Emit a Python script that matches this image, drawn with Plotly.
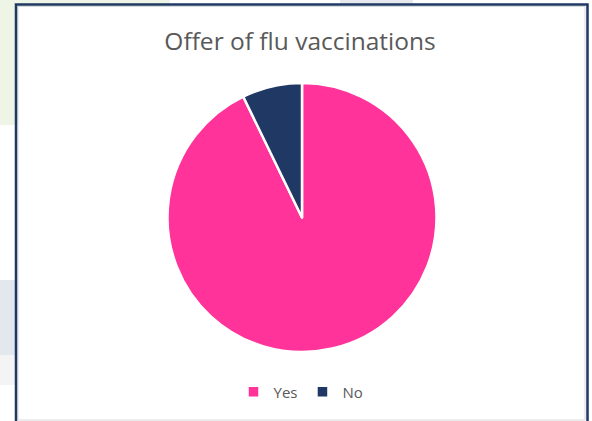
import plotly.graph_objects as go

labels = ["Yes", "No"]
values = [92.8, 7.2]
colors = ["#FF3399", "#1F3864"]
title_text = "Offer of flu vaccinations"

W, H = 592, 421

def px(x):
    return x / W

def py(y):
    return 1 - y / H

fig = go.Figure()
fig.add_trace(go.Pie(
    labels=labels,
    values=values,
    sort=False,
    direction="clockwise",
    rotation=0,
    textinfo="none",
    hoverinfo="label+value",
    marker=dict(colors=colors, line=dict(color="white", width=2.5)),
    domain=dict(x=[px(167), px(437)], y=[py(352), py(83)]),
))

shapes = []
# background artefacts around the chart (screenshot surroundings)
bg = [
    (0, 0, 170, 125, "#EEF5E6"),
    (0, 280, 16, 355, "#E3E8ED"),
    (0, 355, 16, 385, "#F4F4F4"),
    (340, 0, 413, 4, "#E6EAEE"),
]
for x0, y0, x1, y1, c in bg:
    shapes.append(dict(type="rect", xref="paper", yref="paper",
                       x0=px(x0), x1=px(x1), y0=py(y1), y1=py(y0),
                       fillcolor=c, line=dict(width=0), layer="below"))
# chart area white fill with light grey inner edge
shapes.append(dict(type="rect", xref="paper", yref="paper",
                   x0=px(18), x1=px(585), y0=py(420), y1=py(6.5),
                   fillcolor="white", line=dict(color="#D9D9D9", width=1), layer="below"))
# dark blue outer border
shapes.append(dict(type="rect", xref="paper", yref="paper",
                   x0=px(16), x1=px(587.5), y0=py(425), y1=py(4.5),
                   fillcolor="rgba(0,0,0,0)", line=dict(color="#1F3864", width=2.5), layer="above"))

fig.update_layout(
    width=W, height=H,
    margin=dict(l=0, r=0, t=0, b=0),
    paper_bgcolor="white",
    plot_bgcolor="white",
    shapes=shapes,
    title=dict(text=title_text, x=px(300), xanchor="center", y=py(41), yanchor="middle",
               font=dict(family="Open Sans, sans-serif", size=24.5, color="#595959")),
    showlegend=True,
    legend=dict(orientation="h", x=px(301), xanchor="center", y=py(392), yanchor="middle",
                font=dict(family="Open Sans, sans-serif", size=15, color="#595959"),
                itemwidth=30, bgcolor="rgba(0,0,0,0)"),
)

fig.write_html("out.html")
